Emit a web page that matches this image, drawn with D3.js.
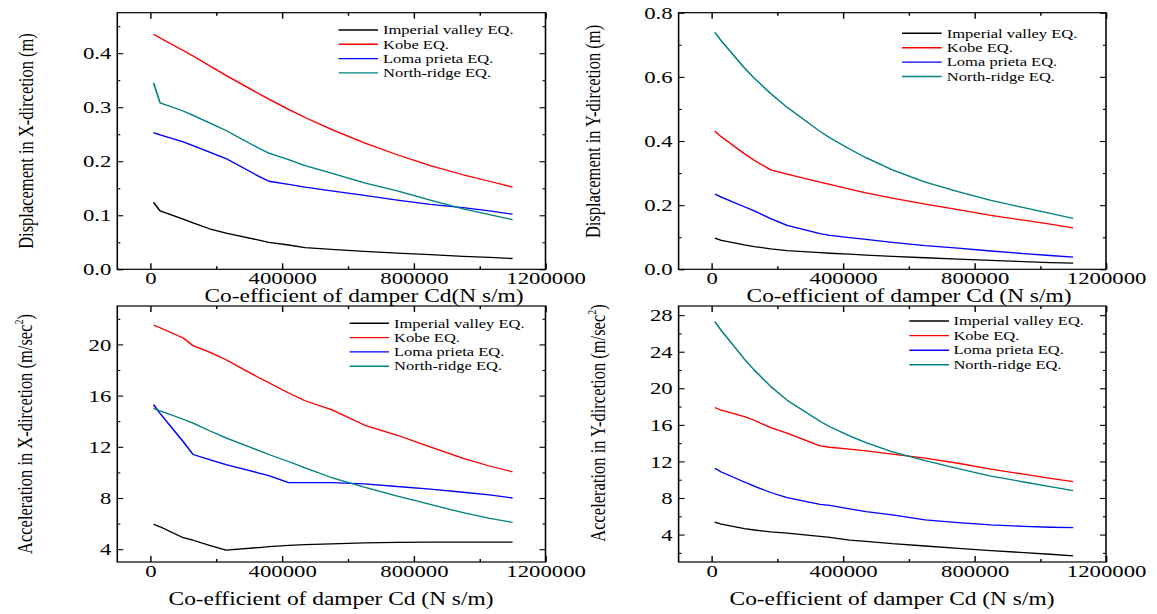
<!DOCTYPE html>
<html>
<head>
<meta charset="utf-8">
<script src="https://cdn.jsdelivr.net/npm/d3@7"></script>
<style>
  body { margin: 0; background: #fff; }
  text { font-family: "Liberation Serif", "Times New Roman", serif; fill: #000; }
</style>
</head>
<body>
<svg id="chart" width="1157" height="614"></svg>
<script>
// --- Data ---
const cd = [10000, 30000, 100000, 130000, 180000, 230000, 330000, 360000, 420000, 470000,
            550000, 650000, 750000, 850000, 950000, 1030000, 1100000];
const quakes = ["Imperial valley EQ.", "Kobe EQ.", "Loma prieta EQ.", "North-ridge EQ."];
const quakeColors = ["#000000", "#ff0000", "#0000ff", "#008080"];

// displacement X (m)
const dispX_imperial = [0.124, 0.108, 0.093, 0.086, 0.075, 0.067, 0.054, 0.050, 0.045, 0.040, 0.037, 0.033, 0.030, 0.027, 0.024, 0.022, 0.020];
const dispX_kobe     = [0.435, 0.428, 0.405, 0.395, 0.377, 0.359, 0.325, 0.315, 0.296, 0.281, 0.259, 0.234, 0.212, 0.192, 0.175, 0.163, 0.152];
const dispX_loma     = [0.253, 0.249, 0.236, 0.229, 0.217, 0.205, 0.172, 0.163, 0.157, 0.152, 0.145, 0.137, 0.128, 0.120, 0.114, 0.108, 0.102];
const dispX_north    = [0.345, 0.308, 0.293, 0.285, 0.271, 0.257, 0.224, 0.215, 0.203, 0.192, 0.178, 0.160, 0.145, 0.128, 0.112, 0.101, 0.092];

// displacement Y (m)
const dispY_imperial = [0.097, 0.090, 0.076, 0.071, 0.064, 0.058, 0.052, 0.050, 0.047, 0.044, 0.040, 0.036, 0.032, 0.028, 0.024, 0.021, 0.019];
const dispY_kobe     = [0.431, 0.413, 0.360, 0.340, 0.310, 0.297, 0.272, 0.265, 0.250, 0.238, 0.222, 0.203, 0.186, 0.168, 0.153, 0.141, 0.129];
const dispY_loma     = [0.235, 0.225, 0.195, 0.182, 0.158, 0.137, 0.111, 0.106, 0.099, 0.093, 0.084, 0.074, 0.066, 0.057, 0.049, 0.043, 0.038];
const dispY_north    = [0.739, 0.712, 0.628, 0.596, 0.548, 0.505, 0.430, 0.410, 0.375, 0.348, 0.310, 0.272, 0.242, 0.215, 0.192, 0.174, 0.159];

// acceleration X (m/sec^2)
const accX_imperial = [5.95, 5.75, 4.90, 4.70, 4.30, 3.93, 4.13, 4.20, 4.30, 4.35, 4.42, 4.50, 4.53, 4.56, 4.56, 4.55, 4.55];
const accX_kobe     = [21.5, 21.3, 20.5, 19.9, 19.4, 18.8, 17.4, 17.0, 16.2, 15.6, 14.9, 13.7, 12.9, 12.0, 11.1, 10.5, 10.05];
const accX_loma     = [15.3, 14.6, 12.4, 11.4, 11.0, 10.6, 9.95, 9.75, 9.20, 9.20, 9.20, 9.10, 8.90, 8.70, 8.45, 8.25, 8.00];
const accX_north    = [15.0, 14.8, 14.15, 13.85, 13.25, 12.7, 11.7, 11.4, 10.85, 10.35, 9.60, 8.85, 8.15, 7.50, 6.85, 6.40, 6.10];

// acceleration Y (m/sec^2)
const accY_imperial = [5.35, 5.15, 4.65, 4.50, 4.30, 4.15, 3.80, 3.70, 3.40, 3.25, 3.00, 2.75, 2.50, 2.25, 2.03, 1.85, 1.67];
const accY_kobe     = [17.9, 17.6, 16.9, 16.5, 15.7, 15.1, 13.7, 13.55, 13.35, 13.15, 12.8, 12.35, 11.8, 11.15, 10.6, 10.15, 9.80];
const accY_loma     = [11.25, 10.85, 9.75, 9.30, 8.60, 8.05, 7.30, 7.20, 6.80, 6.50, 6.15, 5.60, 5.30, 5.05, 4.90, 4.80, 4.75];
const accY_north    = [27.3, 26.3, 23.2, 22.0, 20.2, 18.7, 16.4, 15.8, 14.8, 14.05, 13.05, 12.1, 11.2, 10.4, 9.75, 9.25, 8.80];

const xMajorTicks = [0, 400000, 800000, 1200000];
const xMinorTicks = [200000, 600000, 1000000];

// --- Layout ---
// the original figure is stretched horizontally; draw in a squeezed space and scale back
const S = 1.3;
const svg = d3.select("#chart");
const root = svg.append("g").attr("transform", `scale(${S},1)`);

const panels = [
  {
    box: [117.3, 545.5, 12.7, 269.3], yDomain: [0, 0.475],
    yMajor: [0, 0.1, 0.2, 0.3, 0.4], yMinor: [0.05, 0.15, 0.25, 0.35, 0.45], fmt: d3.format(".1f"),
    series: [dispX_imperial, dispX_kobe, dispX_loma, dispX_north],
    yTitle: "Displacement in X-dircetion (m)", sup: null, yTitlePos: [33, 141],
    xTitle: "Co-efficient of damper Cd(N s/m)", xTitlePos: [364, 302],
    legend: [338.5, 378, 383, 30, 14.3]
  },
  {
    box: [678.6, 1106, 12.7, 269.3], yDomain: [0, 0.8],
    yMajor: [0, 0.2, 0.4, 0.6, 0.8], yMinor: [0.1, 0.3, 0.5, 0.7], fmt: d3.format(".1f"),
    series: [dispY_imperial, dispY_kobe, dispY_loma, dispY_north],
    yTitle: "Displacement in Y-dircetion (m)", sup: null, yTitlePos: [600, 131.5],
    xTitle: "Co-efficient of damper Cd (N s/m)", xTitlePos: [909, 302],
    legend: [902, 941.7, 946.8, 33.3, 14.4]
  },
  {
    box: [117.3, 545.5, 306, 562], yDomain: [3, 23],
    yMajor: [4, 8, 12, 16, 20], yMinor: [6, 10, 14, 18, 22], fmt: d3.format("d"),
    series: [accX_imperial, accX_kobe, accX_loma, accX_north],
    yTitle: "Acceleration in X-dircetion (m/sec", sup: "2", yTitlePos: [32, 434],
    xTitle: "Co-efficient of damper Cd (N s/m)", xTitlePos: [331, 605],
    legend: [349.6, 389, 394, 323.3, 14.3]
  },
  {
    box: [678.6, 1106, 306, 562], yDomain: [1, 29],
    yMajor: [4, 8, 12, 16, 20, 24, 28], yMinor: [2, 6, 10, 14, 18, 22, 26], fmt: d3.format("d"),
    series: [accY_imperial, accY_kobe, accY_loma, accY_north],
    yTitle: "Acceleration in Y-dircetion (m/sec", sup: "2", yTitlePos: [605, 423],
    xTitle: "Co-efficient of damper Cd (N s/m)", xTitlePos: [892, 605],
    legend: [909.3, 949, 953.4, 321, 14.6]
  }
];

function styleAxis(g, size) {
  g.attr("font-family", null).attr("font-size", null);
  g.select(".domain").remove();
  g.selectAll(".tick line").attr("stroke", "#000").attr("stroke-width", 1.1);
  g.selectAll(".tick text").style("font-size", size + "px");
}

panels.forEach(p => {
  const [x0, x1, y0, y1] = p.box;
  const x = d3.scaleLinear().domain([-100000, 1200000]).range([x0 / S, x1 / S]);
  const y = d3.scaleLinear().domain(p.yDomain).range([y1, y0]);
  const g = root.append("g");

  // bottom axis with labels, top mirrored
  g.append("g").attr("transform", `translate(0,${y1})`)
    .call(d3.axisBottom(x).tickValues(xMajorTicks).tickSize(-6).tickPadding(15).tickFormat(d3.format("d")))
    .call(a => styleAxis(a, 17.5))
    .call(a => a.selectAll(".tick text").attr("dy", null).attr("y", 15));
  g.append("g").attr("transform", `translate(0,${y1})`)
    .call(d3.axisBottom(x).tickValues(xMinorTicks).tickSize(-3).tickFormat(""))
    .call(a => styleAxis(a, 0));
  g.append("g").attr("transform", `translate(0,${y0})`)
    .call(d3.axisTop(x).tickValues(xMajorTicks).tickSize(-6).tickFormat(""))
    .call(a => styleAxis(a, 0));
  g.append("g").attr("transform", `translate(0,${y0})`)
    .call(d3.axisTop(x).tickValues(xMinorTicks).tickSize(-3).tickFormat(""))
    .call(a => styleAxis(a, 0));

  // left axis with labels, right mirrored
  g.append("g").attr("transform", `translate(${x0 / S},0)`)
    .call(d3.axisLeft(y).tickValues(p.yMajor).tickSize(-6 / S).tickPadding(6 / S).tickFormat(p.fmt))
    .call(a => styleAxis(a, 17.5));
  g.append("g").attr("transform", `translate(${x0 / S},0)`)
    .call(d3.axisLeft(y).tickValues(p.yMinor).tickSize(-3 / S).tickFormat(""))
    .call(a => styleAxis(a, 0));
  g.append("g").attr("transform", `translate(${x1 / S},0)`)
    .call(d3.axisRight(y).tickValues(p.yMajor).tickSize(-6 / S).tickFormat(""))
    .call(a => styleAxis(a, 0));
  g.append("g").attr("transform", `translate(${x1 / S},0)`)
    .call(d3.axisRight(y).tickValues(p.yMinor).tickSize(-3 / S).tickFormat(""))
    .call(a => styleAxis(a, 0));

  // frame
  g.append("rect")
    .attr("x", x0 / S).attr("y", y0)
    .attr("width", (x1 - x0) / S).attr("height", y1 - y0)
    .attr("fill", "none").attr("stroke", "#000").attr("stroke-width", 1.2);

  // curves
  const line = d3.line().x((d, i) => x(cd[i])).y(d => y(d));
  p.series.forEach((vals, k) => {
    g.append("path")
      .datum(vals)
      .attr("d", line)
      .attr("fill", "none")
      .attr("stroke", quakeColors[k])
      .attr("stroke-width", 1.3)
      .attr("stroke-linejoin", "round");
  });

  // legend
  const [lx0, lx1, tx, ly, dy] = p.legend;
  quakes.forEach((name, k) => {
    const yy = ly + k * dy;
    g.append("line")
      .attr("x1", lx0 / S).attr("x2", lx1 / S).attr("y1", yy).attr("y2", yy)
      .attr("stroke", quakeColors[k]).attr("stroke-width", 1.4);
    g.append("text")
      .attr("x", tx / S).attr("y", yy + 4.3)
      .style("font-size", "12.7px")
      .text(name);
  });

  // axis titles
  g.append("text")
    .attr("x", p.xTitlePos[0] / S).attr("y", p.xTitlePos[1])
    .attr("text-anchor", "middle")
    .style("font-size", "18px")
    .text(p.xTitle);

  const yt = g.append("text")
    .attr("transform", `translate(${p.yTitlePos[0] / S},${p.yTitlePos[1]}) rotate(-90)`)
    .attr("text-anchor", "middle")
    .style("font-size", "16.5px");
  yt.append("tspan").text(p.yTitle);
  if (p.sup) {
    yt.append("tspan").attr("dy", -7).style("font-size", "10px").text(p.sup);
    yt.append("tspan").attr("dy", 7).text(")");
  }
});
</script>
</body>
</html>
